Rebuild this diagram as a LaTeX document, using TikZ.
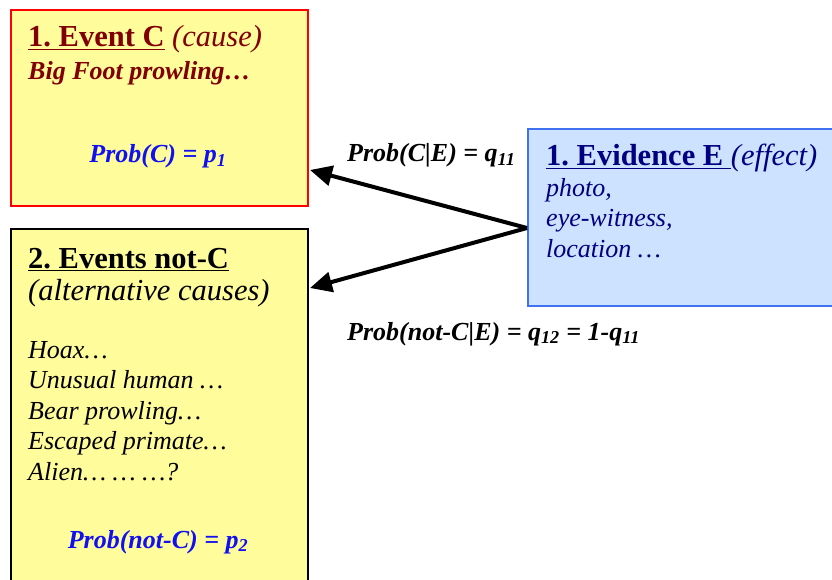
\documentclass[tikz,border=0pt]{standalone}
\usepackage{fontspec}
\setmainfont{Liberation Serif}
\usepackage{tikz}
\usetikzlibrary{arrows.meta, positioning, calc}
\usepackage{xcolor}
\definecolor{causered}{HTML}{800000}
\definecolor{evnavy}{HTML}{000080}
\definecolor{probblue}{HTML}{1010F0}
\definecolor{padyellow}{HTML}{FFFC9C}
\definecolor{padblue}{HTML}{CCE2FF}
\definecolor{edgeblue}{HTML}{3F72F0}
\frenchspacing

\newcommand{\headsize}{\fontsize{30.5}{34}\selectfont}
\newcommand{\bodysize}{\fontsize{26}{30.5}\selectfont}

\tikzset{
  causebox/.style={draw, line width=2pt, fill=padyellow, anchor=north west,
    inner sep=0pt},
  txt/.style={anchor=base west, inner sep=0pt},
  ctxt/.style={anchor=base, inner sep=0pt},
  evarrow/.style={line width=4pt, -{Triangle[length=22pt, width=20pt]}}
}

\begin{document}
\begin{tikzpicture}[x=1pt, y=-1pt]
    \useasboundingbox (0,0) rectangle (832,580);
    \clip (0,0) rectangle (832,580);
    % boxes
    \node[causebox, draw=red, minimum width=297pt, minimum height=196pt]
      (boxC) at (10,9) {};
    \node[causebox, draw=black, minimum width=297pt, minimum height=380pt]
      (boxN) at (10,228) {};
    \node[causebox, draw=edgeblue, fill=padblue, minimum width=330pt,
      minimum height=177pt] (boxE) at (527,128) {};

    % event C
    \node[txt, causered, font=\headsize] (titleC) at (28,47)
      {\textbf{\underline{1. Event C}} \textit{(cause)}};
    \node[txt, causered, font=\bodysize\bfseries\itshape] (footC) at (28,80)
      {Big Foot prowling…};
    \node[ctxt, probblue, font=\bodysize\bfseries\itshape] (probC) at (158,163)
      {Prob(C) = p\textsubscript{1}};

    % events not-C
    \node[txt, font=\headsize\bfseries] (titleN) at (28,268)
      {\underline{2. Events not-C}};
    \node[txt, font=\headsize\itshape] (altN) at (28,300) {(alternative causes)};
    \node[txt, align=left, anchor=north west, font=\bodysize\itshape]
      (listN) at (28,341)
      {Hoax…\\ Unusual human …\\ Bear prowling…\\ Escaped primate…\\
       Alien… … …?};
    \node[ctxt, probblue, font=\bodysize\bfseries\itshape] (probN) at (158,548)
      {Prob(not-C) = p\textsubscript{2}};

    % evidence E
    \node[txt, evnavy, font=\headsize] (titleE) at (546,166)
      {\textbf{\underline{1. Evidence E }}\textit{(effect)}};
    \node[txt, evnavy, align=left, anchor=north west, font=\bodysize\itshape]
      (listE) at (546,178) {photo,\\ eye-witness,\\ location …};

    % arrows
    \coordinate (fork) at (527,228);
    \coordinate (tipC) at (310,170);
    \coordinate (tipN) at (310,288);
    \draw[evarrow] (fork) -- (tipC);
    \draw[evarrow] (fork) -- (tipN);
    \node[txt, font=\bodysize\bfseries\itshape] (qC) at (347,162)
      {Prob(C|E) = q\textsubscript{11}};
    \node[txt, font=\bodysize\bfseries\itshape] (qN) at (347,340)
      {Prob(not-C|E) = q\textsubscript{12} = 1-q\textsubscript{11}};
  \end{tikzpicture}
\end{document}
